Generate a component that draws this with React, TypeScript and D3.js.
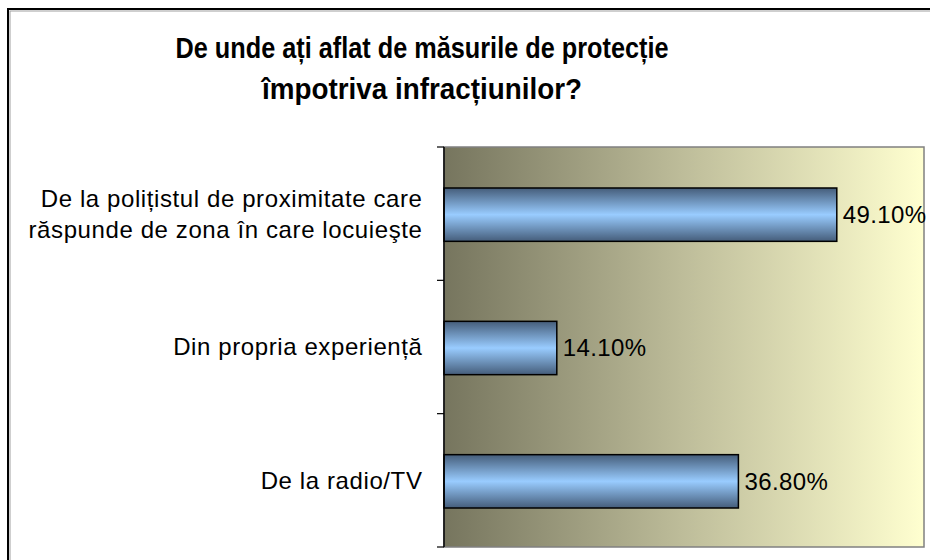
import React from "react";
import * as d3 from "d3";

const categories = [
  ["De la polițistul de proximitate care", "răspunde de zona în care locuieşte"],
  ["Din propria experiență"],
  ["De la radio/TV"],
];
const values = [49.1, 14.1, 36.8];
const titleLines = ["De unde ați aflat de măsurile de protecție", "împotriva infracțiunilor?"];
const xDomain = [0, 60];

const W = 930;
const H = 560;
const plot = { left: 444, right: 924, top: 147, bottom: 547 };

export default function App() {
  const x = d3.scaleLinear().domain(xDomain).range([plot.left, plot.right]);
  const keys = categories.map((_, i) => String(i));
  const y = d3
    .scaleBand<string>()
    .domain(keys)
    .range([plot.top, plot.bottom])
    .paddingInner(0.6)
    .paddingOuter(0.3);
  const step = y.step();
  const boundaries = d3.range(keys.length + 1).map((i) => plot.top + i * step);
  const font = "'Liberation Sans', Arial, sans-serif";

  return (
    <svg
      width={W}
      height={H}
      style={{ position: "fixed", left: 0, top: 0, background: "#fff" }}
      fontFamily={font}
    >
      <defs>
        <linearGradient id="plotBg" x1="0" y1="0" x2="1" y2="0">
          <stop offset="0" stopColor="#76755e" />
          <stop offset="0.5" stopColor="#bebd9a" />
          <stop offset="1" stopColor="#ffffd0" />
        </linearGradient>
        <linearGradient id="barGrad" x1="0" y1="0" x2="0" y2="1">
          <stop offset="0" stopColor="#455d7a" />
          <stop offset="0.5" stopColor="#99ccff" />
          <stop offset="1" stopColor="#455d7a" />
        </linearGradient>
      </defs>

      {/* outer chart border */}
      <rect x={10} y={11} width={940} height={560} fill="none" stroke="#a0a0a0" strokeWidth={1} />
      <rect x={8} y={9} width={940} height={560} fill="none" stroke="#000" strokeWidth={2} />

      {/* title */}
      <text
        x={422}
        y={58}
        textAnchor="middle"
        fontSize={29}
        fontWeight="bold"
        textLength={493}
        lengthAdjust="spacingAndGlyphs"
      >
        {titleLines[0]}
      </text>
      <text
        x={422}
        y={99}
        textAnchor="middle"
        fontSize={29}
        fontWeight="bold"
        textLength={320}
        lengthAdjust="spacingAndGlyphs"
      >
        {titleLines[1]}
      </text>

      {/* plot area */}
      <rect
        x={plot.left}
        y={plot.top}
        width={plot.right - plot.left}
        height={plot.bottom - plot.top}
        fill="url(#plotBg)"
        stroke="#808080"
        strokeWidth={1.5}
      />

      {/* bars */}
      {values.map((v, i) => (
        <rect
          key={"b" + i}
          x={x(0)}
          y={(y(String(i)) as number) + 1}
          width={x(v) - x(0)}
          height={y.bandwidth()}
          fill="url(#barGrad)"
          stroke="#000"
          strokeWidth={1.5}
        />
      ))}

      {/* value labels */}
      {values.map((v, i) => (
        <text
          key={"v" + i}
          x={x(v) + 6}
          y={(y(String(i)) as number) + y.bandwidth() / 2 + 1}
          dy="0.35em"
          fontSize={24}
          letterSpacing={0.4}
          fill="#000"
        >
          {v.toFixed(2) + "%"}
        </text>
      ))}

      {/* axis */}
      <line x1={plot.left} x2={plot.left} y1={plot.top} y2={plot.bottom} stroke="#000" strokeWidth={1.5} />
      {boundaries.map((b, i) => (
        <line key={"t" + i} x1={plot.left - 7} x2={plot.left} y1={b} y2={b} stroke="#000" strokeWidth={1.2} />
      ))}

      {/* category labels */}
      {categories.map((lines, i) => {
        const cy = (y(String(i)) as number) + y.bandwidth() / 2;
        const lh = 31;
        const start = cy - ((lines.length - 1) * lh) / 2;
        return lines.map((ln, j) => (
          <text
            key={"c" + i + "-" + j}
            x={422.5}
            y={start + j * lh}
            dy="0.35em"
            textAnchor="end"
            fontSize={24}
            letterSpacing={0.6}
            fill="#000"
          >
            {ln}
          </text>
        ));
      })}
    </svg>
  );
}
